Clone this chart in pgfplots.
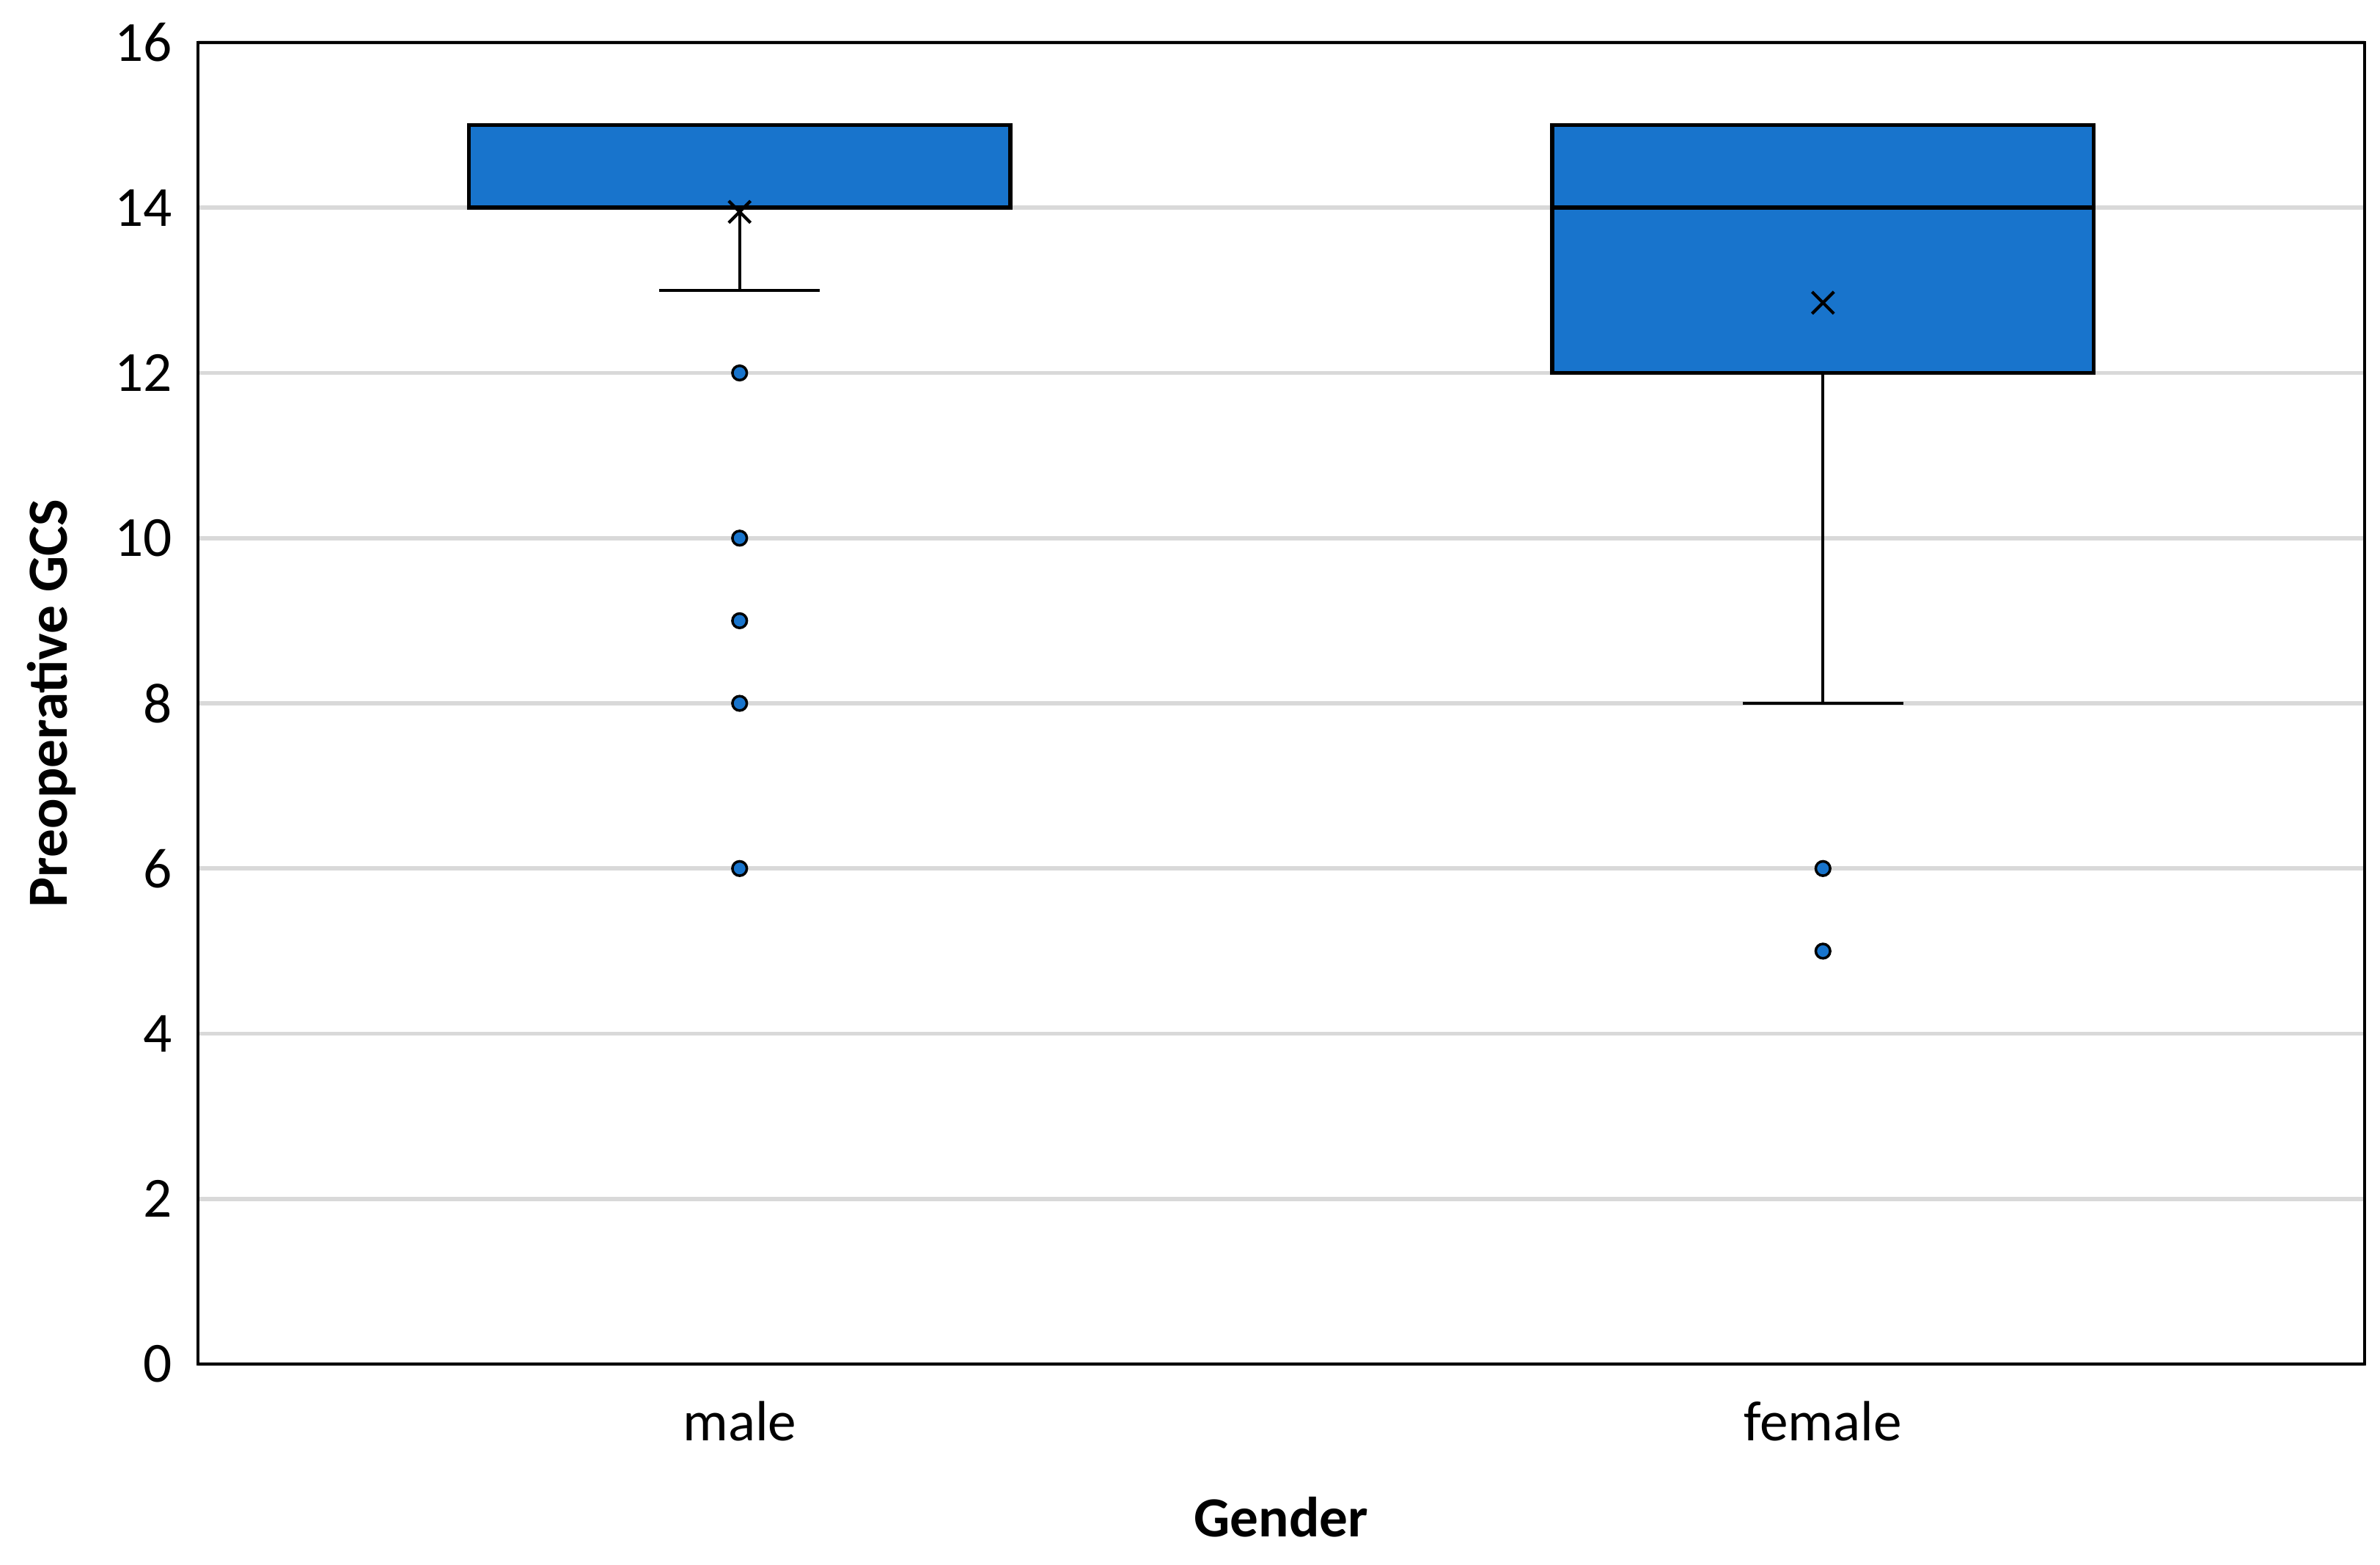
\documentclass[border=0pt]{standalone}
\usepackage{fontspec}
\setmainfont{Carlito}
\usepackage{pgfplots}
\pgfplotsset{compat=1.18}
\definecolor{boxblue}{RGB}{24,116,204}
\definecolor{gridgray}{RGB}{217,217,217}

\begin{document}
\begin{tikzpicture}
\path[use as bounding box] (-1.35cm,-1.365cm) rectangle (14.88cm,9.30cm);
\begin{axis}[
    at={(0,0)}, anchor=south west,
    scale only axis,
    width=14.775cm, height=9.01cm,
    xmin=0.5, xmax=2.5,
    ymin=0, ymax=16,
    xtick={1,2}, xticklabels={male,female},
    ytick={0,2,...,16},
    major tick length=0pt,
    ymajorgrids,
    grid style={gridgray, line width=0.8pt},
    axis line style={black, line width=0.6pt},
    tick label style={font=\fontsize{11}{13}\selectfont},
    /pgf/number format/assume math mode=true,
    yticklabel style={xshift=-0.05cm},
    xticklabel style={yshift=-0.13cm},
    xlabel={\textbf{Gender}},
    ylabel={\textbf{Preoperative GCS}},
    label style={font=\fontsize{11}{13}\selectfont},
    xlabel style={at={(axis description cs:0.5,-0.116)}, anchor=center},
    ylabel style={at={(axis description cs:-0.0677,0.5)}, anchor=center, rotate=0},
    whisker/.style={black, line width=0.6pt, mark=none},
    box/.style={fill=boxblue, draw=black, line width=0.8pt, mark=none},
]
% male: whisker 13, Q1 14, median 14, Q3 15, max 15
\addplot[whisker] coordinates {(1,14) (1,13)};
\addplot[whisker] coordinates {(0.926,13) (1.074,13)};
\addplot[box] coordinates {(0.75,14) (1.25,14) (1.25,15) (0.75,15)} -- cycle;
\addplot[box] coordinates {(0.75,14) (1.25,14)};
% female: whisker 8, Q1 12, median 14, Q3 15, max 15
\addplot[whisker] coordinates {(2,12) (2,8)};
\addplot[whisker] coordinates {(1.926,8) (2.074,8)};
\addplot[box] coordinates {(1.75,12) (2.25,12) (2.25,15) (1.75,15)} -- cycle;
\addplot[box] coordinates {(1.75,14) (2.25,14)};
% outliers
\addplot[only marks, mark=*, mark size=1.4pt,
    mark options={fill=boxblue, draw=black, line width=0.5pt}]
    coordinates {(1,12) (1,10) (1,9) (1,8) (1,6) (2,6) (2,5)};
% means
\addplot[only marks, mark=x, mark size=3pt, black, line width=0.6pt]
    coordinates {(1,13.95) (2,12.85)};
\end{axis}
\end{tikzpicture}
\end{document}
